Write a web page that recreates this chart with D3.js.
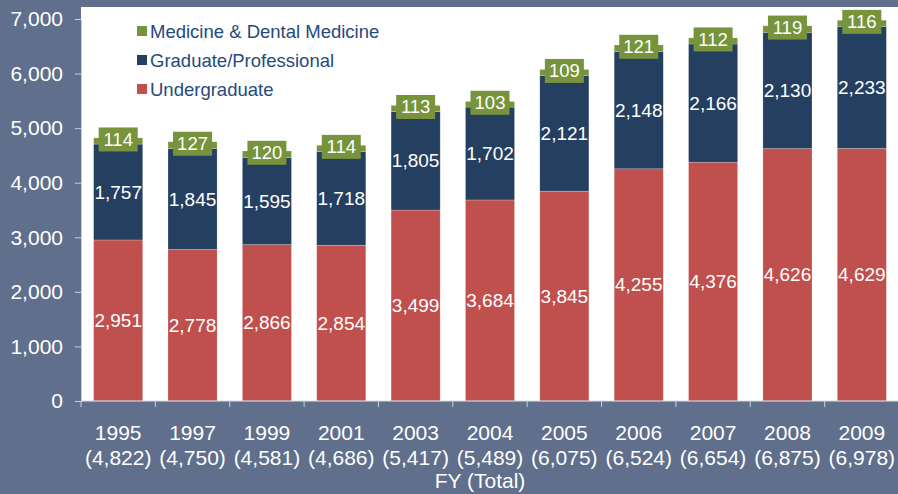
<!DOCTYPE html>
<html>
<head>
<meta charset="utf-8">
<script src="https://cdn.jsdelivr.net/npm/d3@7"></script>
<style>
  html, body { margin: 0; padding: 0; background: #606f8c; }
  svg { display: block; font-family: "Liberation Sans", Arial, sans-serif; }
</style>
</head>
<body>
<div id="chart"></div>
<script>
// NOTE: data
const years = ['1995', '1997', '1999', '2001', '2003', '2004', '2005', '2006', '2007', '2008', '2009'];
const totals = ['4,822', '4,750', '4,581', '4,686', '5,417', '5,489', '6,075', '6,524', '6,654', '6,875', '6,978'];
const undergraduate = [2951, 2778, 2866, 2854, 3499, 3684, 3845, 4255, 4376, 4626, 4629];
const graduate = [1757, 1845, 1595, 1718, 1805, 1702, 2121, 2148, 2166, 2130, 2233];
const medicine = [114, 127, 120, 114, 113, 103, 109, 121, 112, 119, 116];
const yTicks = [0, 1000, 2000, 3000, 4000, 5000, 6000, 7000];

const seriesKeys = ['undergraduate', 'graduate', 'medicine'];
const seriesLabels = {
  medicine: 'Medicine & Dental Medicine',
  graduate: 'Graduate/Professional',
  undergraduate: 'Undergraduate',
};
const colors = { undergraduate: '#c0504d', graduate: '#243f60', medicine: '#77933c' };

// NOTE: layout
const W = 898, H = 494;
const plot = { left: 81, right: 899, top: 7, bottom: 401 };

const rows = years.map((year, i) => ({
  year,
  total: totals[i],
  undergraduate: undergraduate[i],
  graduate: graduate[i],
  medicine: medicine[i],
}));

const svg = d3.select('#chart').append('svg').attr('width', W).attr('height', H);

svg.append('rect').attr('width', W).attr('height', H).attr('fill', '#606f8c');
svg.append('rect')
  .attr('x', plot.left).attr('y', plot.top)
  .attr('width', plot.right - plot.left).attr('height', plot.bottom - plot.top)
  .attr('fill', '#ffffff');

const x = d3.scaleBand().domain(years).range([plot.left, plot.right]).paddingInner(0.34).paddingOuter(0.17);
const y = d3.scaleLinear().domain([0, 7000]).range([plot.bottom, 19]);

const stack = d3.stack().keys(seriesKeys)(rows);

// bars
const layers = svg.append('g').selectAll('g')
  .data(stack)
  .join('g')
  .attr('fill', (d) => colors[d.key]);

layers.selectAll('rect')
  .data((d) => d)
  .join('rect')
  .attr('x', (d) => x(d.data.year))
  .attr('y', (d) => y(d[1]))
  .attr('width', x.bandwidth())
  .attr('height', (d) => y(d[0]) - y(d[1]))
  .attr('stroke', '#ffffff')
  .attr('stroke-opacity', 0.35)
  .attr('stroke-width', 0.6);

// value labels in undergrad + graduate segments
stack.filter((s) => s.key != 'medicine').forEach((s) => {
  svg.append('g').selectAll('text')
    .data(s)
    .join('text')
    .attr('x', (d) => x(d.data.year) + x.bandwidth() / 2)
    .attr('y', (d) => y((d[0] + d[1]) / 2))
    .attr('text-anchor', 'middle')
    .attr('dominant-baseline', 'central')
    .attr('fill', '#ffffff')
    .attr('font-size', 19)
    .text((d) => d3.format(',')(d.data[s.key]));
});

// medicine labels: green boxes sitting on the thin top segment
const med = stack.find((s) => s.key == 'medicine');
const medLabels = svg.append('g').selectAll('g')
  .data(med)
  .join('g')
  .attr('transform', (d) => `translate(${x(d.data.year) + x.bandwidth() / 2},${y((d[0] + d[1]) / 2) - 1.5})`);
medLabels.append('rect')
  .attr('x', -19.5).attr('y', -12)
  .attr('width', 39).attr('height', 24)
  .attr('fill', colors.medicine);
medLabels.append('text')
  .attr('text-anchor', 'middle')
  .attr('dominant-baseline', 'central')
  .attr('fill', '#ffffff')
  .attr('font-size', 18.5)
  .text((d) => d.data.medicine);

// y axis
const yAxis = svg.append('g')
  .attr('transform', `translate(${plot.left},0)`)
  .call(d3.axisLeft(y).tickValues(yTicks).tickFormat(d3.format(',')).tickSize(6).tickPadding(12));
yAxis.select('.domain').attr('stroke', '#c9cfdb');
yAxis.selectAll('.tick line').attr('stroke', '#c9cfdb');
yAxis.selectAll('.tick text').attr('fill', '#ffffff').attr('font-size', 21).attr('font-family', '"Liberation Sans", Arial, sans-serif');

// x axis: band boundary ticks
const xAxis = svg.append('g');
xAxis.append('line')
  .attr('x1', plot.left).attr('x2', plot.right)
  .attr('y1', plot.bottom).attr('y2', plot.bottom)
  .attr('stroke', '#d6dae3');
xAxis.selectAll('.btick')
  .data(years.concat(['end']))
  .join('line')
  .attr('class', 'btick')
  .attr('x1', (d, i) => plot.left + i * x.step())
  .attr('x2', (d, i) => plot.left + i * x.step())
  .attr('y1', plot.bottom).attr('y2', plot.bottom + 6)
  .attr('stroke', '#c9cfdb');

const xLabels = xAxis.selectAll('.xlab')
  .data(rows)
  .join('text')
  .attr('class', 'xlab')
  .attr('text-anchor', 'middle')
  .attr('fill', '#ffffff')
  .attr('font-size', 21);
xLabels.append('tspan')
  .attr('x', (d) => x(d.year) + x.bandwidth() / 2)
  .attr('y', 439.5)
  .text((d) => d.year);
xLabels.append('tspan')
  .attr('x', (d) => x(d.year) + x.bandwidth() / 2)
  .attr('y', 464.5)
  .text((d) => `(${d.total})`);

svg.append('text')
  .attr('x', 480).attr('y', 487.5)
  .attr('text-anchor', 'middle')
  .attr('fill', '#ffffff')
  .attr('font-size', 21)
  .text('FY (Total)');

// legend
const legendKeys = ['medicine', 'graduate', 'undergraduate'];
const legend = svg.append('g').selectAll('g')
  .data(legendKeys)
  .join('g')
  .attr('transform', (d, i) => `translate(137,${31 + i * 29})`);
legend.append('rect')
  .attr('x', 0).attr('y', -5)
  .attr('width', 10).attr('height', 10)
  .attr('fill', (d) => colors[d]);
legend.append('text')
  .attr('x', 13)
  .attr('dominant-baseline', 'central')
  .attr('fill', '#254a7c')
  .attr('font-size', 18.5)
  .text((d) => seriesLabels[d]);
</script>
</body>
</html>
